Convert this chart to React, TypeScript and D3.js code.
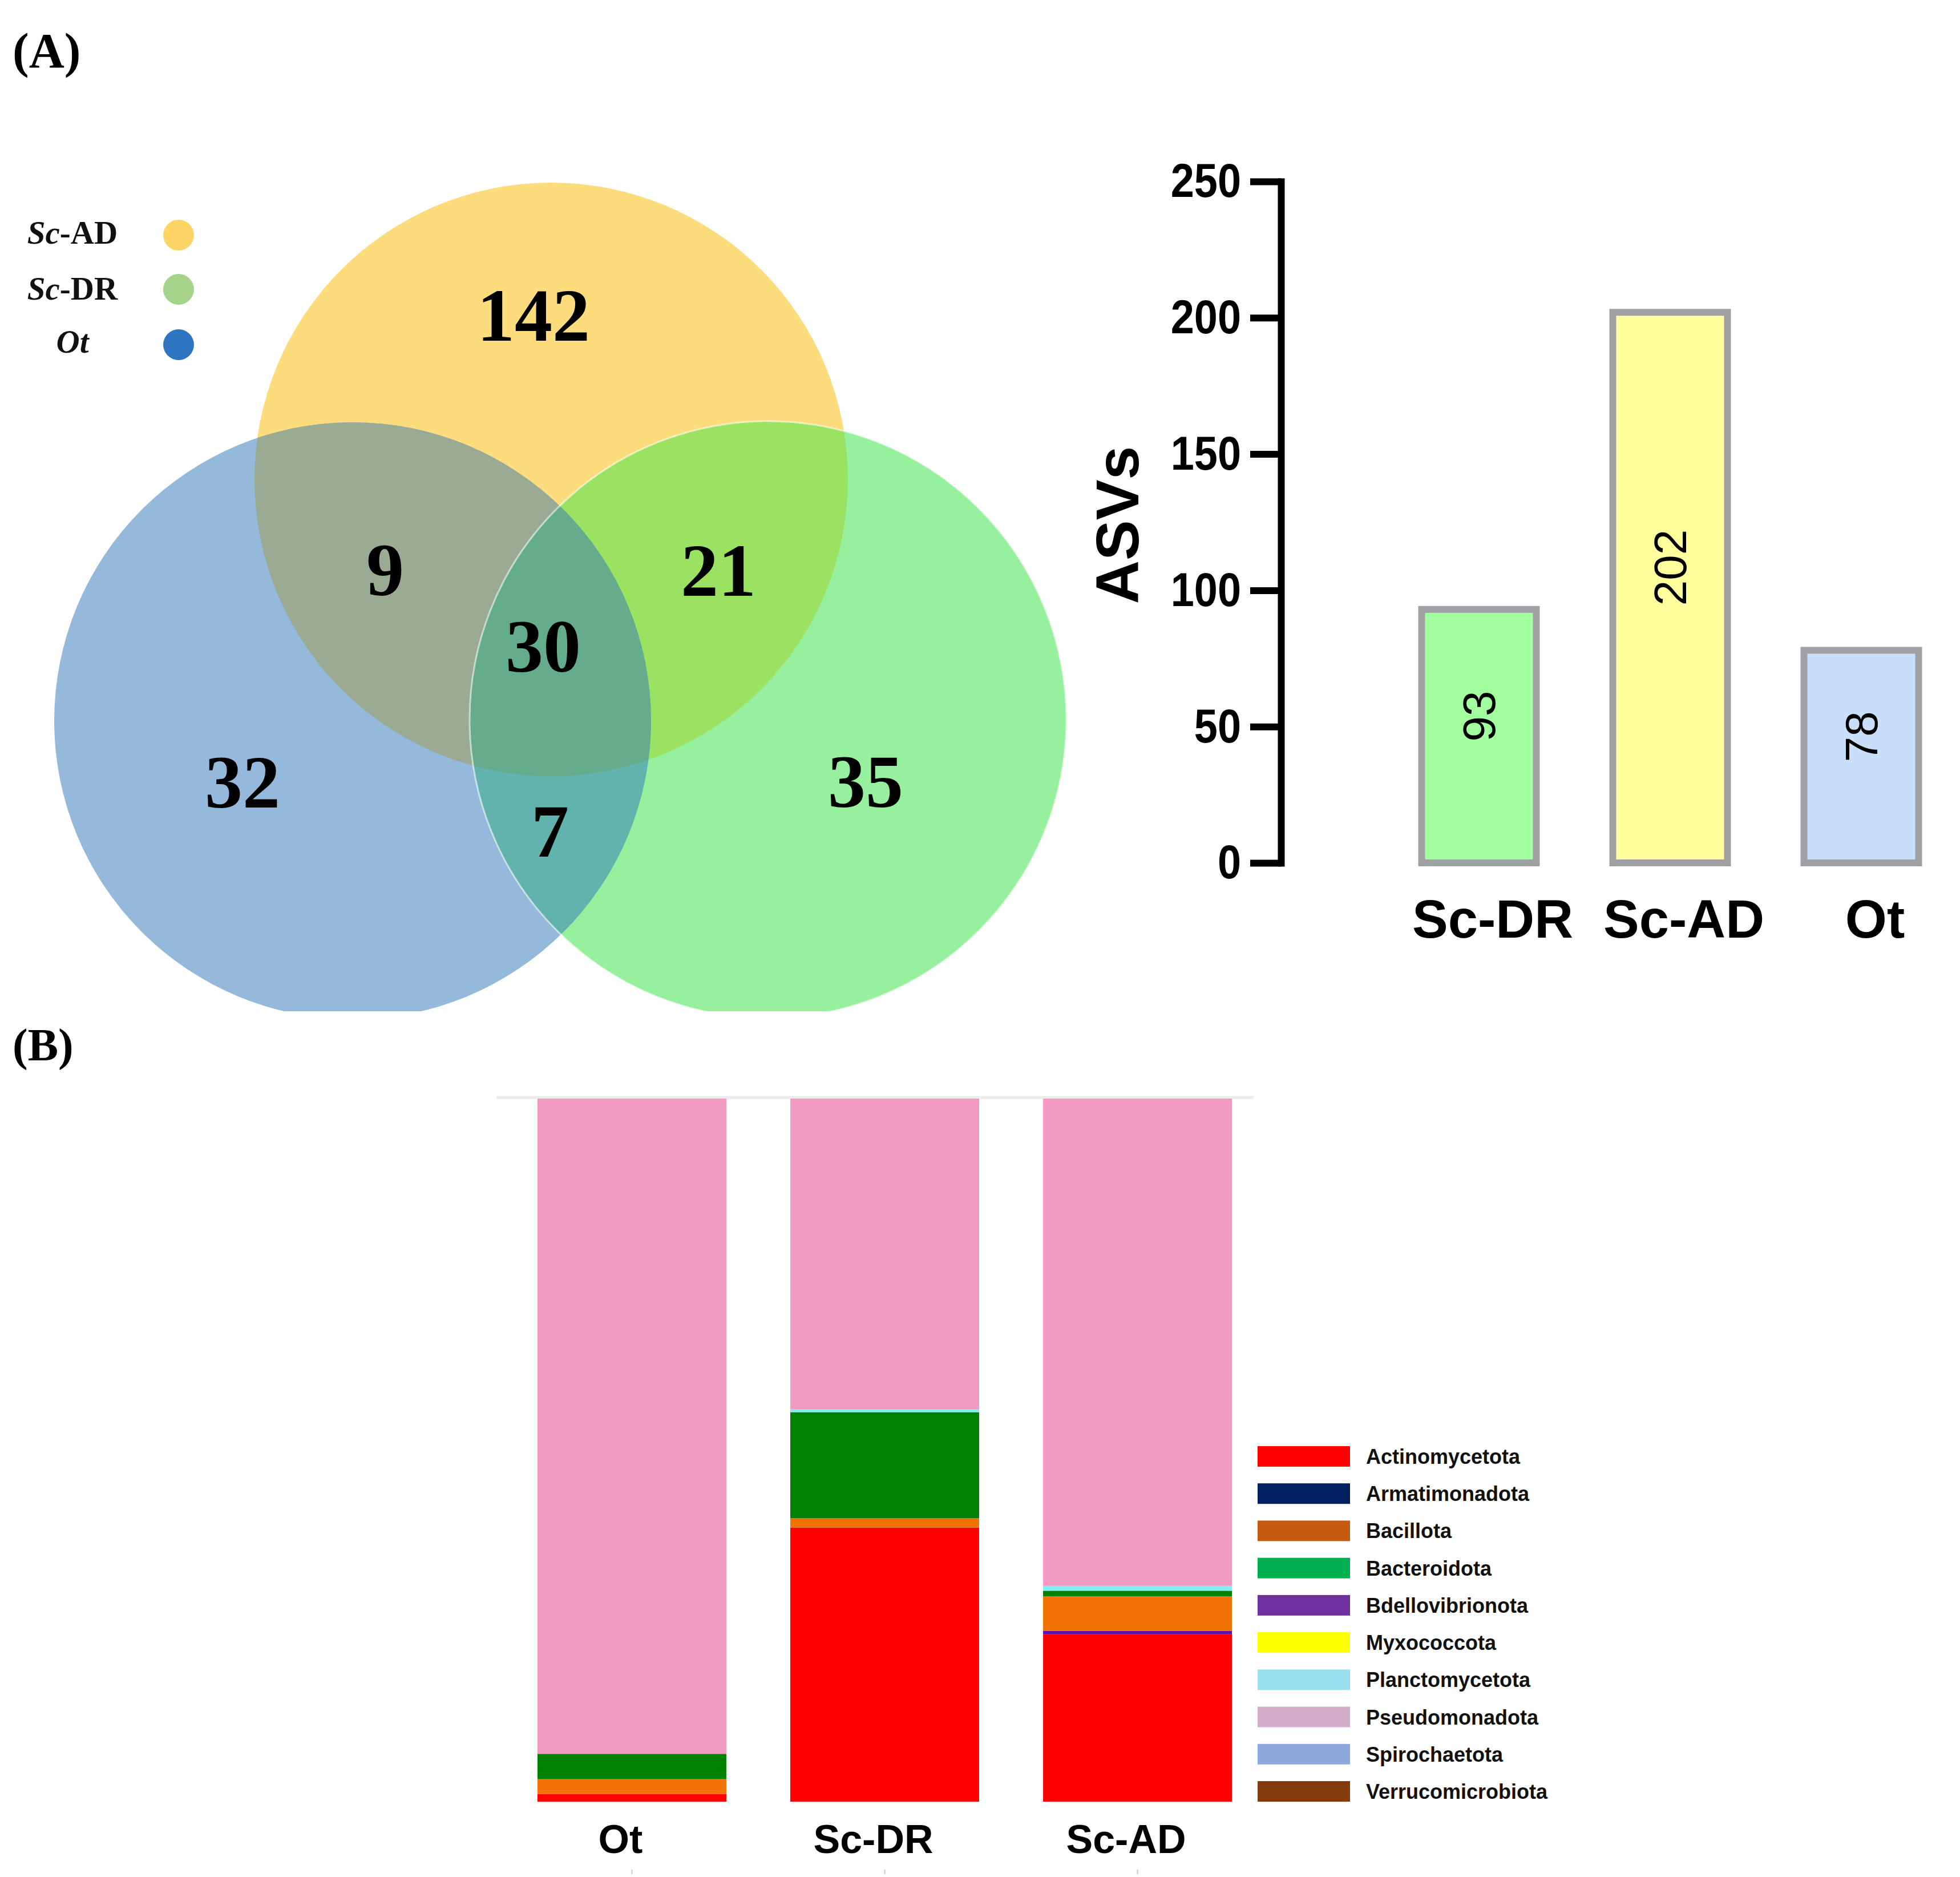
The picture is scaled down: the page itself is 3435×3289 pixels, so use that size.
import React, { useEffect, useRef } from "react";
import * as d3 from "d3";

const W = 3435;
const H = 3289;
const SERIF = "'Liberation Serif', 'Times New Roman', serif";
const SANS = "'Liberation Sans', Arial, sans-serif";

// ---- Venn (panel A, left) ----
const vennNames = ["Sc-AD", "Sc-DR", "Ot"];
const vennDotColors = ["#FED565", "#A5D38A", "#2E75C1"];
// region counts: AD only, DR only, Ot only, AD∩DR, AD∩Ot, DR∩Ot, all three
const vennRegions = ["AD", "DR", "OT", "AD_DR", "AD_OT", "DR_OT", "ALL"];
const vennCounts = [142, 35, 32, 21, 9, 7, 30];

// ---- ASV bar chart (panel A, right) ----
const asvGroups = ["Sc-DR", "Sc-AD", "Ot"];
const asvCounts = [93, 202, 78];
const asvTicks = [0, 50, 100, 150, 200, 250];

// ---- Stacked phylum composition (panel B) ----
const phyla = [
  "Actinomycetota",
  "Armatimonadota",
  "Bacillota",
  "Bacteroidota",
  "Bdellovibrionota",
  "Myxococcota",
  "Planctomycetota",
  "Pseudomonadota",
  "Spirochaetota",
  "Verrucomicrobiota",
];
const stackSamples = ["Ot", "Sc-DR", "Sc-AD"];
const otShare = [1.1, 0, 2.1, 3.6, 0, 0, 0, 93.2, 0, 0];
const scDrShare = [39.0, 0, 1.3, 15.1, 0, 0, 0.4, 44.2, 0, 0];
const scAdShare = [23.8, 0.5, 4.9, 0.8, 0, 0, 0.7, 69.3, 0, 0];

// colours
const asvFill = ["#A3FF9E", "#FFFF9E", "#C9DEF8"];
const barColors = ["#FF0000", "#5412B4", "#F27305", "#008000", "#7030A0", "#FFFF00", "#86ECF4", "#F39AC2", "#8EA9DB", "#843C0C"];
const legendColors = ["#FF0000", "#002060", "#C55A11", "#00B050", "#7030A0", "#FFFF00", "#99E0EE", "#D4AEC9", "#8EA9DB", "#843C0C"];
const regionFill: Record<string, string> = {
  AD: "#FDDC7E",
  DR: "#97F09D",
  OT: "#95B9DB",
  AD_DR: "#9CE262",
  AD_OT: "#9AAA93",
  DR_OT: "#62B3AD",
  ALL: "#64AC8C",
};

// Venn layout (pixels)
const VENN = {
  AD: { cx: 966, cy: 840, r: 520 },
  DR: { cx: 1346, cy: 1261, r: 523 },
  OT: { cx: 618, cy: 1263, r: 523 },
  clipBottom: 1772,
};
const vennLabelPos: Record<string, [number, number]> = {
  AD: [935, 597],
  DR: [1517, 1414],
  OT: [425, 1415],
  AD_DR: [1259, 1044],
  AD_OT: [675, 1043],
  DR_OT: [964, 1501],
  ALL: [952, 1177],
};

// scales
const yA = d3.scaleLinear().domain([0, 250]).range([1512, 318]);
const xA = d3.scaleBand<string>().domain(asvGroups).range([2357.5, 3496.5]).padding(0.4);

const xB = d3.scaleBand<string>().domain(stackSamples).range([942, 942 + 443 * 2 + 331]).paddingInner(0.253).paddingOuter(0);
const yB = d3.scaleLinear().domain([0, 100]).range([3157, 1925]);

const stackRows = stackSamples.map((s, i) => {
  const vals = [otShare, scDrShare, scAdShare][i];
  const row: Record<string, any> = { sample: s };
  phyla.forEach((p, j) => (row[p] = vals[j]));
  return row;
});
const stacked = d3.stack<Record<string, any>>().keys(phyla)(stackRows);

const legendY = d3.scaleLinear().domain([0, phyla.length - 1]).range([2552, 3139]);

export default function App() {
  const yAxisRef = useRef<SVGGElement>(null);
  const xTickRef = useRef<SVGGElement>(null);

  useEffect(() => {
    const k = 0.88;
    const g = d3.select(yAxisRef.current);
    g.selectAll("*").remove();
    g.call(d3.axisLeft(yA).tickValues(asvTicks).tickSize(54).tickSizeOuter(0).tickPadding(14));
    g.attr("font-family", SANS).attr("font-size", 84).attr("font-weight", "bold");
    g.select(".domain").attr("stroke", "#000").attr("stroke-width", 12).attr("stroke-linecap", "square");
    g.selectAll(".tick line").attr("stroke", "#000").attr("stroke-width", 12);
    g.selectAll(".tick text")
      .attr("fill", "#000")
      .attr("x", -70 / k)
      .attr("transform", `scale(${k},1)`);

    const t = d3.select(xTickRef.current);
    t.selectAll("*").remove();
    t.call(d3.axisBottom(xB).tickSize(8).tickFormat(() => ""));
    t.select(".domain").remove();
    t.selectAll(".tick line").attr("stroke", "#c8c8c8").attr("stroke-width", 2);
  }, []);

  const circle = (key: "AD" | "DR" | "OT", props: any = {}) => (
    <circle cx={VENN[key].cx} cy={VENN[key].cy} r={VENN[key].r} {...props} />
  );

  return (
    <svg
      width={W}
      height={H}
      viewBox={`0 0 ${W} ${H}`}
      style={{ position: "absolute", left: 0, top: 0, background: "#fff" }}
    >
      <defs>
        <clipPath id="clipAD">{circle("AD")}</clipPath>
        <clipPath id="clipDR">{circle("DR")}</clipPath>
        <clipPath id="clipOT">{circle("OT")}</clipPath>
        <clipPath id="clipVenn">
          <rect x={0} y={0} width={2000} height={VENN.clipBottom} />
        </clipPath>
      </defs>
      <rect width={W} height={H} fill="#fff" />

      {/* panel labels */}
      <text x={22} y={118} fontFamily={SERIF} fontWeight="bold" fontSize={86}>
        (A)
      </text>
      <text x={22} y={1858} fontFamily={SERIF} fontWeight="bold" fontSize={80}>
        (B)
      </text>

      {/* Venn diagram */}
      <g clipPath="url(#clipVenn)">
        {circle("AD", { fill: regionFill.AD })}
        {circle("OT", { fill: regionFill.OT })}
        {circle("DR", { fill: regionFill.DR })}
        <g clipPath="url(#clipAD)">{circle("OT", { fill: regionFill.AD_OT })}</g>
        <g clipPath="url(#clipAD)">{circle("DR", { fill: regionFill.AD_DR })}</g>
        <g clipPath="url(#clipOT)">{circle("DR", { fill: regionFill.DR_OT })}</g>
        <g clipPath="url(#clipAD)">
          <g clipPath="url(#clipOT)">{circle("DR", { fill: regionFill.ALL })}</g>
        </g>
        {circle("DR", { fill: "none", stroke: "#ffffff", strokeOpacity: 0.55, strokeWidth: 3 })}
      </g>
      {vennRegions.map((reg, i) => (
        <text
          key={reg}
          x={vennLabelPos[reg][0]}
          y={vennLabelPos[reg][1]}
          textAnchor="middle"
          fontFamily={SERIF}
          fontWeight="bold"
          fontSize={132}
          fill="#000"
        >
          {vennCounts[i]}
        </text>
      ))}

      {/* Venn legend */}
      {vennNames.map((name, i) => {
        const y = [427, 525, 618][i];
        const dy = [412, 507, 604][i];
        const [pre, post] = name.startsWith("Sc") ? ["Sc", name.slice(2)] : [name, ""];
        return (
          <g key={name}>
            <text x={127} y={y} textAnchor="middle" fontFamily={SERIF} fontWeight="bold" fontSize={57} fill="#111">
              <tspan fontStyle="italic">{pre}</tspan>
              {post}
            </text>
            <circle cx={313} cy={dy} r={27} fill={vennDotColors[i]} />
          </g>
        );
      })}

      {/* ASV bar chart */}
      <g ref={yAxisRef} transform="translate(2245,0)" />
      <text
        transform={`translate(1995,${(yA(0) + yA(250)) / 2 + 5}) rotate(-90)`}
        textAnchor="middle"
        fontFamily={SANS}
        fontWeight="bold"
        fontSize={106}
      >
        ASVs
      </text>
      {asvGroups.map((gname, i) => {
        const x = xA(gname)!;
        const bw = xA.bandwidth();
        const v = asvCounts[i];
        const cx = x + bw / 2;
        return (
          <g key={gname}>
            <rect
              x={x}
              y={yA(v)}
              width={bw}
              height={yA(0) - yA(v)}
              fill={asvFill[i]}
              stroke="#A0A0A4"
              strokeWidth={12}
            />
            <text
              transform={`translate(${cx + 28},${yA(v / 2) - 35}) rotate(-90)`}
              textAnchor="middle"
              fontFamily={SANS}
              fontSize={80}
              fill="#000"
            >
              {v}
            </text>
            <text x={cx + 24} y={1643} textAnchor="middle" fontFamily={SANS} fontWeight="bold" fontSize={94}>
              {gname}
            </text>
          </g>
        );
      })}

      {/* Panel B: stacked bars */}
      <line x1={870} x2={2197} y1={1923} y2={1923} stroke="#ececec" strokeWidth={5} />
      {stacked.map((layer, li) => (
        <g key={layer.key} fill={barColors[li]}>
          {layer.map((d) => {
            const s = d.data.sample as string;
            const h = yB(d[0]) - yB(d[1]);
            if (h <= 0) return null;
            return <rect key={s} x={xB(s)} y={yB(d[1])} width={xB.bandwidth()} height={h} />;
          })}
        </g>
      ))}
      {stackSamples.map((s) => (
        <text
          key={s}
          x={xB(s)! + xB.bandwidth() / 2 - 20}
          y={3247}
          textAnchor="middle"
          fontFamily={SANS}
          fontWeight="bold"
          fontSize={70}
        >
          {s}
        </text>
      ))}
      <g ref={xTickRef} transform="translate(0,3276)" />

      {/* Panel B legend */}
      {phyla.map((p, i) => {
        const cy = legendY(i);
        return (
          <g key={p}>
            <rect x={2204} y={cy - 18} width={162} height={36} fill={legendColors[i]} />
            <text x={2394} y={cy + 13} fontFamily={SANS} fontWeight="bold" fontSize={36} fill="#111">
              {p}
            </text>
          </g>
        );
      })}
    </svg>
  );
}
